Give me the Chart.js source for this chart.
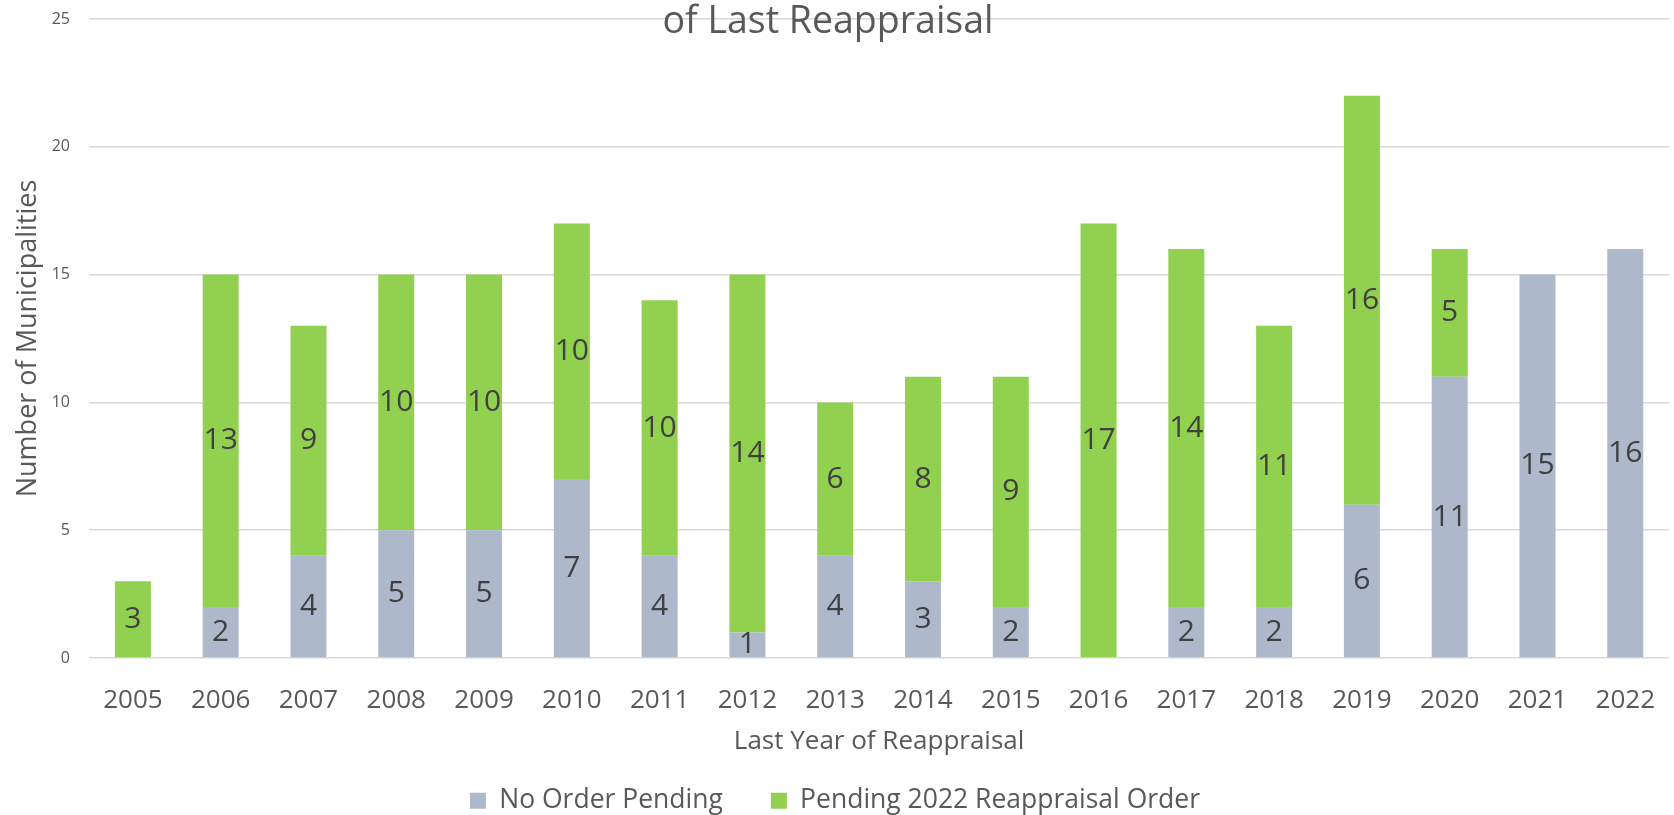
<!DOCTYPE html>
<html>
<head>
<meta charset="utf-8">
<script src="https://cdn.jsdelivr.net/npm/chart.js@4"></script>
<style>
    html, body { margin: 0; padding: 0; background: #fff; }
    #wrap { width: 1674px; height: 815px; }
</style>
</head>
<body>
<div id="wrap"><canvas id="reappraisalChart"></canvas></div>
<script>
// Datos del gráfico
const years = ['2005', '2006', '2007', '2008', '2009', '2010', '2011', '2012', '2013',
    '2014', '2015', '2016', '2017', '2018', '2019', '2020', '2021', '2022'];
const noOrderPending = [0, 2, 4, 5, 5, 7, 4, 1, 4, 3, 2, 0, 2, 2, 6, 11, 15, 16];
const pendingOrder = [3, 13, 9, 10, 10, 10, 10, 14, 6, 8, 9, 17, 14, 11, 16, 5, 0, 0];
const yTicks = [0, 5, 10, 15, 20, 25];

const colors = {
    gray: '#ADB9CA',
    green: '#92D050',
    text: '#595959',
    label: '#404040',
    grid: '#D9D9D9'
};
const fontName = '"Open Sans", sans-serif';

// Etiquetas dentro de cada segmento
const segmentLabels = {
    id: 'segmentLabels',
    afterDatasetsDraw(chart) {
        const ctx = chart.ctx;
        ctx.save();
        ctx.font = '30px ' + fontName;
        ctx.fillStyle = colors.label;
        ctx.textAlign = 'center';
        ctx.textBaseline = 'middle';
        chart.data.datasets.forEach((ds, i) => {
            chart.getDatasetMeta(i).data.forEach((bar, j) => {
                const v = ds.data[j];
                if (!v) return;
                ctx.fillText(String(v), bar.x, (bar.y + bar.base) / 2);
            });
        });
        ctx.restore();
    }
};

// Segunda línea del título (la primera queda fuera del lienzo)
const partialTitle = {
    id: 'partialTitle',
    afterDraw(chart) {
        const ctx = chart.ctx;
        ctx.save();
        ctx.font = '37.5px ' + fontName;
        ctx.fillStyle = colors.text;
        ctx.textAlign = 'center';
        ctx.textBaseline = 'alphabetic';
        ctx.fillText('of Last Reappraisal', 828, 33);
        ctx.restore();
    }
};

const ctx = document.getElementById('reappraisalChart').getContext('2d');
new Chart(ctx, {
    type: 'bar',
    data: {
        labels: years,
        datasets: [{
            label: 'No Order Pending',
            data: noOrderPending,
            backgroundColor: colors.gray,
            categoryPercentage: 1,
            barPercentage: 0.41
        }, {
            label: 'Pending 2022 Reappraisal Order',
            data: pendingOrder,
            backgroundColor: colors.green,
            categoryPercentage: 1,
            barPercentage: 0.41
        }]
    },
    options: {
        responsive: true,
        maintainAspectRatio: false,
        animation: false,
        layout: { padding: { top: 19, right: -16, left: -20, bottom: -9 } },
        scales: {
            x: {
                stacked: true,
                grid: { display: false },
                border: { display: false },
                ticks: { color: colors.text, font: { family: fontName, size: 26 }, padding: 19 },
                title: {
                    display: true,
                    text: 'Last Year of Reappraisal',
                    color: colors.text,
                    font: { family: fontName, size: 26 },
                    padding: { top: 0, bottom: -18 }
                },
                afterFit(scale) { scale.height = 81.5; }
            },
            y: {
                stacked: true,
                min: 0,
                max: 25,
                afterBuildTicks(scale) { scale.ticks = yTicks.map(v => ({ value: v })); },
                grid: { color: colors.grid, lineWidth: 1.5, drawTicks: true, tickLength: 19, tickColor: 'transparent' },
                border: { display: false },
                ticks: { color: colors.text, font: { family: fontName, size: 16 }, padding: 0 },
                title: {
                    display: true,
                    text: 'Number of Municipalities',
                    color: colors.text,
                    font: { family: fontName, size: 27 },
                    padding: { top: 32, bottom: 0 }
                },
                afterFit(scale) { scale.width = 109; }
            }
        },
        plugins: {
            legend: {
                position: 'bottom',
                labels: {
                    color: colors.text,
                    font: { family: fontName, size: 26.5 },
                    boxWidth: 16,
                    boxHeight: 16,
                    padding: 48
                }
            },
            tooltip: { enabled: false }
        }
    },
    plugins: [segmentLabels, partialTitle]
});
</script>
</body>
</html>
